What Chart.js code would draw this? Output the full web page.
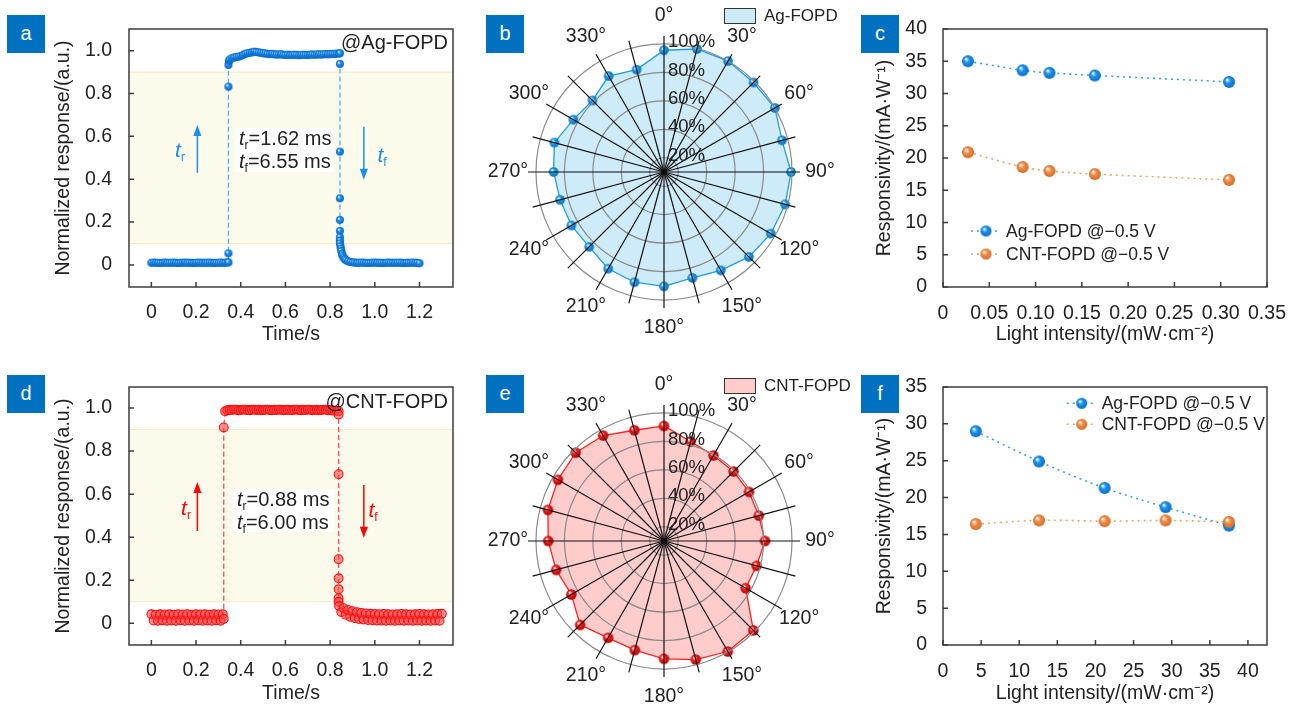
<!DOCTYPE html>
<html>
<head>
<meta charset="utf-8">
<script src="https://cdn.jsdelivr.net/npm/chart.js@4.4.0/dist/chart.umd.min.js"></script>
<style>
  body { margin: 0; background: #fff; font-family: "Liberation Sans", Arial, sans-serif; color: #222; }
  #wrap { position: relative; width: 1296px; height: 705px; overflow: hidden; }
  canvas { position: absolute; }
  .tag { position: absolute; width: 38px; height: 38px; background: #0070c0; color: #fff;
         font-size: 20px; line-height: 36px; text-align: center; z-index: 2; }
  .txt { position: absolute; white-space: nowrap; z-index: 2; }
  .box { position: absolute; background: #fff; font-size: 20px; line-height: 20px; padding-left: 4px; z-index: 2; box-sizing: border-box; }
  .sub { font-size: 12px; position: relative; top: 4px; font-style: normal; }
  .key { position: absolute; width: 32px; height: 16px; border: 1.3px solid #333; box-sizing: border-box; z-index: 2; }
</style>
</head>
<body>
<div id="wrap">
  <canvas id="ca" width="460" height="350" style="left:0;top:0"></canvas>
  <canvas id="cb" width="420" height="350" style="left:460px;top:0"></canvas>
  <canvas id="cc" width="436" height="350" style="left:860px;top:0"></canvas>
  <canvas id="cd" width="460" height="350" style="left:0;top:355px"></canvas>
  <canvas id="ce" width="420" height="350" style="left:460px;top:355px"></canvas>
  <canvas id="cf" width="436" height="350" style="left:860px;top:355px"></canvas>

  <div class="tag" style="left:7px;top:15px">a</div>
  <div class="tag" style="left:486px;top:15px">b</div>
  <div class="tag" style="left:861px;top:15px">c</div>
  <div class="tag" style="left:7px;top:375px">d</div>
  <div class="tag" style="left:486px;top:375px">e</div>
  <div class="tag" style="left:861px;top:375px">f</div>

  <div class="txt" style="left:300px;width:148px;text-align:right;top:32px;font-size:20px;line-height:20px">@Ag-FOPD</div>
  <div class="txt" style="left:280px;width:168px;text-align:right;top:391px;font-size:20px;line-height:20px">@CNT-FOPD</div>

  <div class="box" style="left:235px;top:128px;width:98px;height:44px">
    <i>t</i><span class="sub">r</span>=1.62 ms<br><i>t</i><span class="sub">f</span>=6.55 ms</div>
  <div class="box" style="left:233px;top:489px;width:101px;height:43px">
    <i>t</i><span class="sub">r</span>=0.88 ms<br><i>t</i><span class="sub">f</span>=6.00 ms</div>

  <div class="txt" style="left:160px;width:40px;text-align:center;top:138px;font-size:21px;line-height:24px;color:#1a8ef0"><i>t</i><span class="sub">r</span></div>
  <div class="txt" style="left:362px;width:40px;text-align:center;top:143px;font-size:21px;line-height:24px;color:#1a8ef0"><i>t</i><span class="sub">f</span></div>
  <div class="txt" style="left:166px;width:40px;text-align:center;top:496px;font-size:21px;line-height:24px;color:#f00"><i>t</i><span class="sub">r</span></div>
  <div class="txt" style="left:353px;width:40px;text-align:center;top:498px;font-size:21px;line-height:24px;color:#f00"><i>t</i><span class="sub">f</span></div>

  <div class="key" style="left:724px;top:8px;background:#cdebf8"></div>
  <div class="txt" style="left:764px;top:6px;font-size:17px;line-height:20px">Ag-FOPD</div>
  <div class="key" style="left:724px;top:378px;background:#ffcccc"></div>
  <div class="txt" style="left:764px;top:376px;font-size:17px;line-height:20px">CNT-FOPD</div>
</div>
<script>
// ---- data ----
const timeTicks = [0, 0.2, 0.4, 0.6, 0.8, 1.0, 1.2];
const timeLabels = ["0", "0.2", "0.4", "0.6", "0.8", "1.0", "1.2"];
const respTicks = [0, 0.2, 0.4, 0.6, 0.8, 1.0];
const respLabels = ["0", "0.2", "0.4", "0.6", "0.8", "1.0"];
const bandRange = [0.1, 0.9];

// a: Ag-FOPD transient
const aTime = [0,0.01,0.02,0.03,0.04,0.05,0.06,0.07,0.08,0.09,0.10,0.11,0.12,0.13,0.14,0.15,0.16,0.17,0.18,0.19,0.20,0.21,0.22,0.23,0.24,0.25,0.26,0.27,0.28,0.29,0.30,0.31,0.32,0.33,0.34,
  0.345,0.345,0.345,0.345,0.347,
  0.35,0.36,0.37,0.38,0.39,0.40,0.41,0.42,0.43,0.44,0.45,0.46,0.47,0.48,0.49,0.50,0.51,0.52,0.53,0.54,0.55,0.56,0.57,0.58,0.59,0.60,0.61,0.62,0.63,0.64,0.65,0.66,0.67,0.68,0.69,0.70,0.71,0.72,0.73,0.74,0.75,0.76,0.77,0.78,0.79,0.80,0.81,0.82,0.83,0.84,
  0.844,0.844,0.844,0.844,0.844,0.844,0.844,0.844,0.844,
  0.846,0.848,0.85,0.853,0.856,0.86,0.865,0.87,0.88,0.89,0.90,
  0.91,0.92,0.93,0.94,0.95,0.96,0.97,0.98,0.99,1.00,1.01,1.02,1.03,1.04,1.05,1.06,1.07,1.08,1.09,1.10,1.11,1.12,1.13,1.14,1.15,1.16,1.17,1.18,1.19,1.20];
const aResp = [0.010,0.011,0.010,0.010,0.009,0.010,0.011,0.010,0.010,0.010,0.011,0.010,0.009,0.010,0.010,0.011,0.010,0.010,0.010,0.009,0.010,0.011,0.010,0.010,0.010,0.010,0.011,0.010,0.009,0.010,0.010,0.011,0.010,0.010,0.012,
  0.012,0.054,0.832,0.933,0.952,
  0.958,0.965,0.968,0.970,0.972,0.975,0.980,0.985,0.988,0.990,0.992,0.995,0.994,0.992,0.990,0.988,0.987,0.985,0.984,0.985,
  0.983,0.982,0.982,0.983,0.981,0.980,0.981,0.980,0.980,0.981,0.980,0.979,0.980,0.981,0.980,0.980,0.981,0.982,0.981,0.982,
  0.983,0.982,0.983,0.984,0.983,0.984,0.985,0.985,0.986,0.987,
  0.988,0.938,0.529,0.311,0.210,0.159,0.129,0.113,0.100,
  0.088,0.076,0.065,0.052,0.043,0.035,0.028,0.022,0.017,0.014,0.012,
  0.011,0.010,0.010,0.011,0.010,0.010,0.009,0.010,0.010,0.011,0.010,0.010,0.010,0.009,0.010,0.011,0.010,0.010,0.010,0.010,0.011,0.010,0.009,0.010,0.010,0.010,0.011,0.010,0.010,0.008];

// d: CNT-FOPD transient
const dTime = [0,0.01,0.02,0.03,0.04,0.05,0.06,0.07,0.08,0.09,0.10,0.11,0.12,0.13,0.14,0.15,0.16,0.17,0.18,0.19,0.20,0.21,0.22,0.23,0.24,0.25,0.26,0.27,0.28,0.29,0.30,0.31,0.32,
  0.324,0.324,
  0.33,0.34,0.35,0.36,0.37,0.38,0.39,0.40,0.41,0.42,0.43,0.44,0.45,0.46,0.47,0.48,0.49,0.50,0.51,0.52,0.53,0.54,0.55,0.56,0.57,0.58,0.59,0.60,0.61,0.62,0.63,0.64,0.65,0.66,0.67,0.68,0.69,0.70,0.71,0.72,0.73,0.74,0.75,0.76,0.77,0.78,0.79,0.80,0.81,0.82,0.83,
  0.838,0.838,0.838,0.838,0.838,0.838,0.838,0.838,
  0.84,0.85,0.86,0.87,0.88,0.89,0.90,0.91,0.92,0.93,0.94,0.95,0.96,0.97,0.98,0.99,1.00,1.01,1.02,1.03,1.04,1.05,1.06,1.07,1.08,1.09,1.10,1.11,1.12,1.13,1.14,1.15,1.16,1.17,1.18,1.19,1.20,1.21,1.22,1.23,1.24,1.25,1.26,1.27,1.28,1.29,1.30];
const dResp = [0.042,0.013,0.040,0.012,0.042,0.014,0.041,0.012,0.042,0.013,0.040,0.012,0.042,0.014,0.041,0.012,0.042,0.013,0.040,0.012,0.042,0.014,0.041,0.012,0.042,0.013,0.040,0.012,0.042,0.014,0.041,0.012,0.042,
  0.020,0.910,
  0.985,0.990,0.992,0.991,0.993,0.992,0.990,0.991,0.993,0.992,0.991,0.990,0.992,0.993,0.991,0.992,0.990,0.991,0.992,0.993,
  0.991,0.990,0.992,0.991,0.993,0.992,0.990,0.991,0.992,0.991,0.990,0.992,0.993,0.991,0.990,0.992,0.991,0.993,0.992,0.990,
  0.991,0.992,0.990,0.991,0.993,0.992,0.990,0.991,0.989,0.988,0.987,
  0.985,0.970,0.693,0.298,0.209,0.158,0.116,0.100,
  0.080,0.052,0.070,0.040,0.062,0.030,0.056,0.024,0.052,0.020,0.048,0.017,0.046,0.015,0.044,0.014,0.043,0.013,0.042,0.013,
  0.043,0.012,0.042,0.013,0.041,0.012,0.042,0.013,0.043,0.012,0.042,0.013,0.041,0.012,0.042,0.013,0.043,0.012,0.042,0.013,
  0.041,0.012,0.042,0.013,0.043,0.012,0.044];

// b, e: angular response (%)
const polarAngles = ["0°","15°","30°","45°","60°","75°","90°","105°","120°","135°","150°","165°","180°","195°","210°","225°","240°","255°","270°","285°","300°","315°","330°","345°"];
const polarTickLabels = ["0°","30°","60°","90°","120°","150°","180°","210°","240°","270°","300°","330°"];
const rTicks = [20, 40, 60, 80, 100];
const rTickLabels = ["20%", "40%", "60%", "80%", "100%"];
const bValues = [95.6,99.5,100,99,100,95.9,99.3,98.2,96.7,94.4,89.9,87.1,90.4,90.2,88.5,84.4,85.2,85.6,87.6,89.8,83.6,81.1,87.9,84.5];
const eValues = [90.9,82.4,79.5,79.1,79.0,79.0,81.0,77.4,76.3,98.8,99.7,96.3,92.8,89.4,88.6,93.4,85.2,88.5,91.4,94.5,96.1,97.8,95.6,90.6];

// c, f: responsivity vs light intensity
const cIntensity = [0.027, 0.086, 0.115, 0.164, 0.309];
const cAg = [35.0, 33.6, 33.2, 32.8, 31.8];
const cCnt = [20.9, 18.6, 18.0, 17.5, 16.6];
const cXTicks = [0, 0.05, 0.10, 0.15, 0.20, 0.25, 0.30, 0.35];
const cXLabels = ["0", "0.05", "0.10", "0.15", "0.20", "0.25", "0.30", "0.35"];
const cYTicks = [0, 5, 10, 15, 20, 25, 30, 35, 40];
const fIntensity = [4.3, 12.6, 21.2, 29.2, 37.5];
const fAg = [29.0, 24.9, 21.3, 18.7, 16.2];
const fCnt = [16.4, 16.9, 16.8, 16.9, 16.7];
const fXTicks = [0, 5, 10, 15, 20, 25, 30, 35, 40];
const fYTicks = [0, 5, 10, 15, 20, 25, 30, 35];
const seriesNames = ["Ag-FOPD @\u22120.5 V", "CNT-FOPD @\u22120.5 V"];

// ---- helpers ----
Chart.defaults.font.family = '"Liberation Sans", Arial, sans-serif';
Chart.defaults.color = "#222";
const FONT = '"Liberation Sans", Arial, sans-serif';
const FS = 19.5;

function sphere(col, edge, r) {
  const c = document.createElement("canvas");
  const s = Math.ceil(r * 2 + 2);
  c.width = c.height = s;
  const g = c.getContext("2d");
  const m = s / 2;
  const gr = g.createRadialGradient(m - r * 0.35, m - r * 0.4, r * 0.05, m, m, r);
  gr.addColorStop(0, "#ffffff");
  gr.addColorStop(0.4, col);
  gr.addColorStop(1, edge);
  g.fillStyle = gr;
  g.beginPath();
  g.arc(m, m, r, 0, Math.PI * 2);
  g.fill();
  return c;
}

function pts(xs, ys) {
  return xs.map((x, i) => ({ x, y: ys[i] }));
}

// frame, inward ticks and shaded band
const frame = {
  id: "frame",
  beforeDatasetsDraw(chart, args, o) {
    if (!o.band) return;
    const { ctx, chartArea: a, scales: { y } } = chart;
    const y0 = y.getPixelForValue(o.band[0]);
    const y1 = y.getPixelForValue(o.band[1]);
    ctx.save();
    ctx.fillStyle = "#fcfaea";
    ctx.fillRect(a.left, y1, a.right - a.left, y0 - y1);
    ctx.strokeStyle = "#f2ecc4";
    ctx.lineWidth = 1;
    ctx.beginPath();
    ctx.moveTo(a.left, y1); ctx.lineTo(a.right, y1);
    ctx.moveTo(a.left, y0); ctx.lineTo(a.right, y0);
    ctx.stroke();
    ctx.restore();
  },
  afterDraw(chart) {
    const { ctx, chartArea: a, scales: { x, y } } = chart;
    ctx.save();
    ctx.strokeStyle = "#3c3c3c";
    ctx.lineWidth = 1.5;
    ctx.strokeRect(a.left, a.top, a.right - a.left, a.bottom - a.top);
    ctx.beginPath();
    x.ticks.forEach(t => {
      const px = x.getPixelForValue(t.value);
      ctx.moveTo(px, a.bottom); ctx.lineTo(px, a.bottom - 5);
    });
    y.ticks.forEach(t => {
      const py = y.getPixelForValue(t.value);
      ctx.moveTo(a.left, py); ctx.lineTo(a.left + 5, py);
    });
    ctx.stroke();
    ctx.restore();
  }
};

const arrows = {
  id: "arrows",
  afterDatasetsDraw(chart, args, o) {
    if (!o.items) return;
    const { ctx, scales: { x, y } } = chart;
    ctx.save();
    ctx.strokeStyle = ctx.fillStyle = o.color;
    ctx.lineWidth = 1.5;
    o.items.forEach(it => {
      const px = x.getPixelForValue(it.x);
      const p0 = y.getPixelForValue(it.from);
      const p1 = y.getPixelForValue(it.to);
      const dir = p1 < p0 ? -1 : 1;
      ctx.beginPath();
      ctx.moveTo(px, p0); ctx.lineTo(px, p1 - dir * 9);
      ctx.stroke();
      ctx.beginPath();
      ctx.moveTo(px, p1);
      ctx.lineTo(px - 4, p1 - dir * 11);
      ctx.lineTo(px + 4, p1 - dir * 11);
      ctx.closePath();
      ctx.fill();
    });
    ctx.restore();
  }
};

const keyLegend = {
  id: "keyLegend",
  afterDraw(chart, args, o) {
    if (!o.x) return;
    const ctx = chart.ctx;
    ctx.save();
    ctx.font = "17.5px " + FONT;
    ctx.textBaseline = "middle";
    ctx.fillStyle = "#222";
    chart.data.datasets.forEach((ds, i) => {
      const yy = o.y + i * o.dy;
      ctx.strokeStyle = ds.borderColor;
      ctx.lineWidth = 1.6;
      ctx.setLineDash([2, 4]);
      ctx.beginPath();
      ctx.moveTo(o.x - 15, yy); ctx.lineTo(o.x + 15, yy);
      ctx.stroke();
      ctx.setLineDash([]);
      const img = sphere(ds.keyColor[0], ds.keyColor[1], 5.5);
      ctx.drawImage(img, o.x - img.width / 2, yy - img.height / 2);
      ctx.fillText(seriesNames[i], o.x + 20, yy + 1);
    });
    ctx.restore();
  }
};

const polarText = {
  id: "polarText",
  afterDraw(chart) {
    const s = chart.scales.r, ctx = chart.ctx;
    ctx.save();
    ctx.fillStyle = "#222";
    ctx.font = FS + "px " + FONT;
    ctx.textAlign = "center";
    ctx.textBaseline = "middle";
    polarTickLabels.forEach((t, i) => {
      const p = s.getPointPosition(i * 2, s.drawingArea + 20);
      ctx.fillText(t, p.x, p.y);
    });
    ctx.font = "18.5px " + FONT;
    ctx.textAlign = "left";
    rTicks.forEach((v, i) => {
      ctx.fillText(rTickLabels[i], s.xCenter + 4, s.yCenter - s.getDistanceFromCenterForValue(v) - 2);
    });
    ctx.restore();
  }
};

function axis(min, max, ticks, labels, fit, title, tpad, lpad) {
  return {
    type: "linear", min, max,
    afterBuildTicks: s => { s.ticks = ticks.map(v => ({ value: v })); },
    afterFit: s => { if (s.isHorizontal()) s.height = fit; else s.width = fit; },
    grid: { display: false },
    border: { display: false },
    ticks: { padding: lpad, font: { size: FS }, color: "#222", autoSkip: false, maxRotation: 0,
             callback: (v, i) => labels[i] },
    title: { display: true, text: title, font: { size: FS }, color: "#222", padding: tpad }
  };
}

const base = {
  responsive: false, animation: false, devicePixelRatio: 1,
  events: []
};

// ---- a ----
new Chart(document.getElementById("ca"), {
  type: "scatter",
  data: { datasets: [{
    data: pts(aTime, aResp), showLine: true,
    borderColor: "#4aaef0", borderWidth: 1.3, borderDash: [5, 3],
    pointStyle: sphere("#1a8ef0", "#0b66c2", 4), pointRadius: 4
  }] },
  options: Object.assign({}, base, {
    layout: { padding: { left: 0, top: 29, right: 7, bottom: 0 } },
    plugins: {
      legend: { display: false }, tooltip: { enabled: false },
      frame: { band: bandRange },
      arrows: { color: "#1a8ef0", items: [{ x: 0.206, from: 0.43, to: 0.653 }, { x: 0.951, from: 0.645, to: 0.397 }] }
    },
    scales: {
      x: axis(-0.1, 1.35, timeTicks, timeLabels, 63, "Time/s", { top: 0, bottom: 3.3 }, 6),
      y: axis(-0.103, 1.101, respTicks, respLabels, 129, "Normalized response/(a.u.)", { top: 52.3, bottom: 0 }, 9)
    }
  }),
  plugins: [frame, arrows]
});

// ---- d ----
new Chart(document.getElementById("cd"), {
  type: "scatter",
  data: { datasets: [{
    data: pts(dTime, dResp), showLine: true,
    borderColor: "#ff4a4a", borderWidth: 1.3, borderDash: [5, 3],
    pointStyle: "circle", pointRadius: 4.4, pointBorderWidth: 1.1,
    pointBorderColor: "#ff1010", pointBackgroundColor: "rgba(255,70,70,0.6)"
  }] },
  options: Object.assign({}, base, {
    layout: { padding: { left: 0, top: 32, right: 7, bottom: 0 } },
    plugins: {
      legend: { display: false }, tooltip: { enabled: false },
      frame: { band: bandRange },
      arrows: { color: "#f00", items: [{ x: 0.206, from: 0.429, to: 0.656 }, { x: 0.951, from: 0.643, to: 0.398 }] }
    },
    scales: {
      x: axis(-0.1, 1.35, timeTicks, timeLabels, 60, "Time/s", { top: 0, bottom: 0 }, 6),
      y: axis(-0.101, 1.098, respTicks, respLabels, 129, "Normalized response/(a.u.)", { top: 52.3, bottom: 0 }, 9)
    }
  }),
  plugins: [frame, arrows]
});

// ---- b, e ----
function polar(id, values, fillCol, lineCol, ptCol, ptEdge, ptR, pad) {
  new Chart(document.getElementById(id), {
    type: "radar",
    data: { labels: polarAngles, datasets: [{
      data: values, fill: true, backgroundColor: fillCol, borderColor: lineCol, borderWidth: 1.3,
      pointStyle: sphere(ptCol, ptEdge, ptR), pointRadius: ptR
    }] },
    options: Object.assign({}, base, {
      layout: { padding: pad },
      plugins: { legend: { display: false }, tooltip: { enabled: false } },
      scales: { r: {
        min: 10, max: 105.6,
        afterBuildTicks: s => { s.ticks = [10].concat(rTicks).map(v => ({ value: v })); },
        ticks: { display: false, showLabelBackdrop: false },
        pointLabels: { display: false },
        grid: { circular: true, color: "#8a8a8a", lineWidth: 1.2, z: 1 },
        angleLines: { color: "#111", lineWidth: 1.2 }
      } }
    }),
    plugins: [polarText]
  });
}
polar("cb", bValues, "#cdebf8", "#1c9fe3", "#1aa0e8", "#0a70b8", 4.8, { left: 68, top: 36, right: 80, bottom: 42 });
polar("ce", eValues, "#ffcccc", "#ff2020", "#ff2020", "#b00000", 5.2, { left: 68, top: 50, right: 80, bottom: 28 });

// ---- c, f ----
const blue = ["#1e96f0", "#0a6cc0"], orange = ["#f5914a", "#cf6a28"];
function resp(id, xs, ag, cnt, xr, yr, xt, xl, yt, top, leg) {
  new Chart(document.getElementById(id), {
    type: "scatter",
    data: { datasets: [
      { data: pts(xs, ag), showLine: true, order: 1, borderColor: "#3aa0f0", borderWidth: 1.6, borderDash: [2, 4],
        tension: 0.35, pointStyle: sphere(blue[0], blue[1], 6), pointRadius: 6, keyColor: blue },
      { data: pts(xs, cnt), showLine: true, order: 0, borderColor: "#f5a06a", borderWidth: 1.6, borderDash: [2, 4],
        tension: 0.35, pointStyle: sphere(orange[0], orange[1], 6), pointRadius: 6, keyColor: orange }
    ] },
    options: Object.assign({}, base, {
      layout: { padding: { left: 0, top: top, right: 29, bottom: 0 } },
      plugins: { legend: { display: false }, tooltip: { enabled: false }, keyLegend: leg },
      scales: {
        x: axis(xr[0], xr[1], xt, xl, 350 - top - 258, "Light intensity/(mW\u00b7cm\u207b\u00b2)", { top: 0, bottom: top > 30 ? 0 : 3.3 }, 7),
        y: axis(yr[0], yr[1], yt, yt.map(String), 83, "Responsivity/(mA\u00b7W\u207b\u00b9)", { top: 13.3, bottom: 0 }, 8)
      }
    }),
    plugins: [frame, keyLegend]
  });
}
resp("cc", cIntensity, cAg, cCnt, [0, 0.35], [0, 40], cXTicks, cXLabels, cYTicks, 29, { x: 126, y: 231, dy: 23 });
resp("cf", fIntensity, fAg, fCnt, [0, 42.5], [0, 35], fXTicks, fXTicks.map(String), fYTicks, 32, { x: 221.7, y: 48.3, dy: 21 });
</script>
</body>
</html>
